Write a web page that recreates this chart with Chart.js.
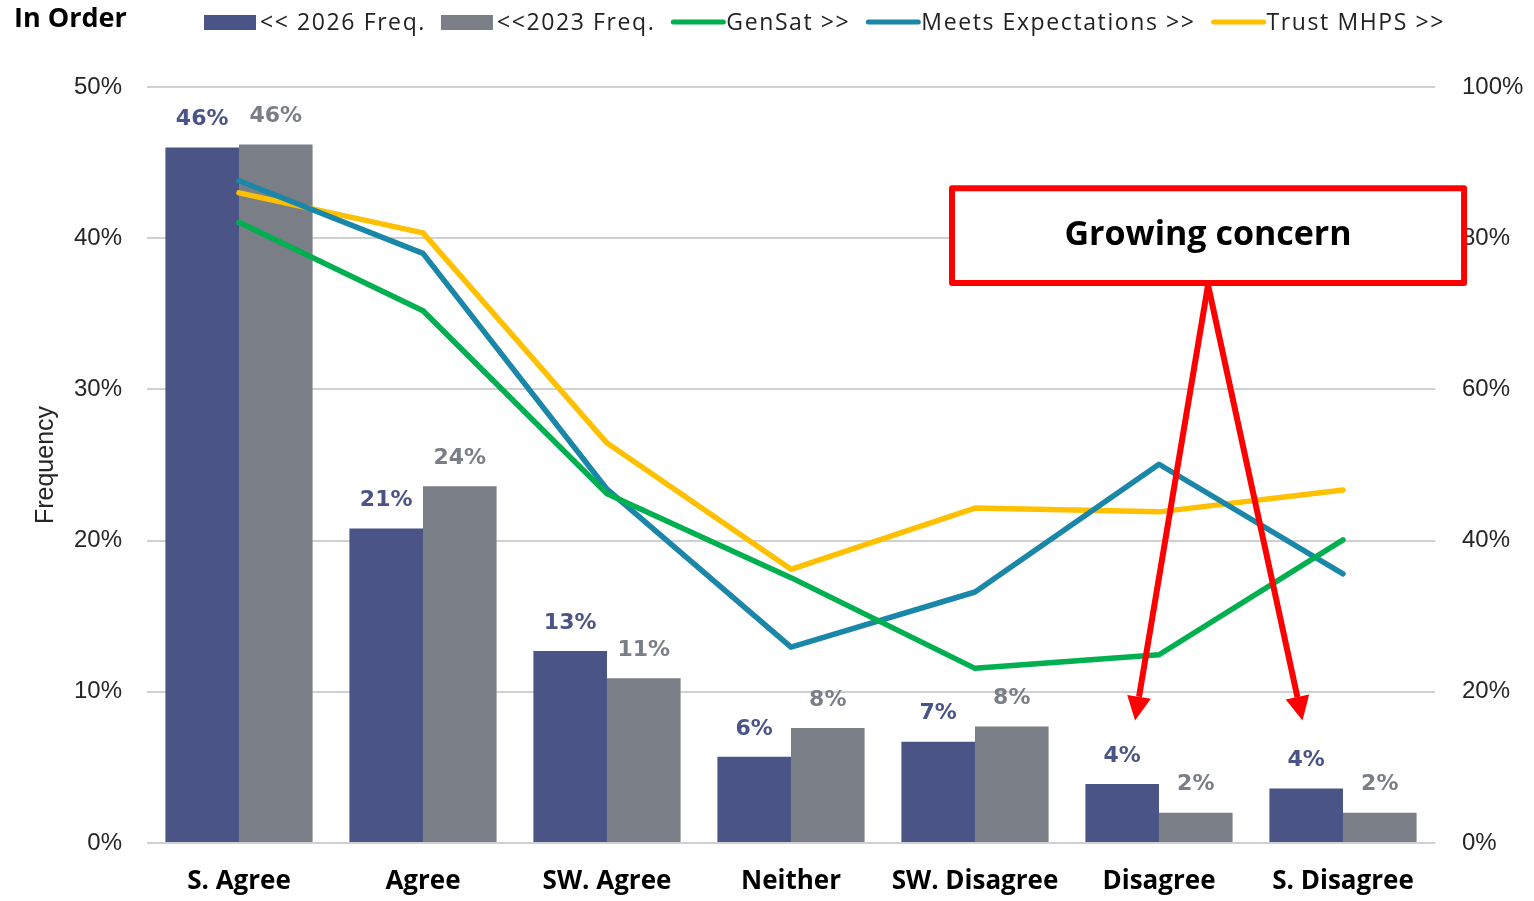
<!DOCTYPE html>
<html>
<head>
<meta charset="utf-8">
<script src="https://cdn.jsdelivr.net/npm/chart.js@4.4.1/dist/chart.umd.min.js"></script>
<style>
  html, body { margin: 0; padding: 0; background: #fff; overflow: hidden; }
  #wrap { width: 1534px; height: 901px; }
</style>
</head>
<body>
<div id="wrap"><canvas id="myChart" width="1534" height="901"></canvas></div>
<script>
// data
const categories = ["S. Agree", "Agree", "SW. Agree", "Neither", "SW. Disagree", "Disagree", "S. Disagree"];
const freq2026 = [46.0, 20.8, 12.7, 5.7, 6.7, 3.9, 3.6];
const freq2023 = [46.2, 23.6, 10.9, 7.6, 7.7, 2.0, 2.0];
const genSat = [82.1, 70.4, 46.2, 35.1, 23.1, 24.9, 40.1];
const meetsExp = [87.6, 78.0, 46.8, 25.9, 33.2, 50.1, 35.6];
const trustMhps = [86.0, 80.7, 52.9, 36.2, 44.3, 43.8, 46.7];
const legendLabels = ["<< 2026 Freq.", "<<2023 Freq.", "GenSat >>", "Meets Expectations >>", "Trust MHPS >>"];

const navy = "#4a5486";
const gray = "#7a7e87";
const green = "#00b050";
const teal = "#1a87a8";
const yellow = "#ffc000";
const red = "#ff0000";

const ctx = document.getElementById("myChart");

// labels above the bars
const barLabels = {
  id: "barLabels",
  afterDatasetsDraw(chart) {
    const c = chart.ctx;
    c.save();
    c.font = "bold 22px 'DejaVu Sans', Verdana, sans-serif";
    c.textAlign = "center";
    c.textBaseline = "middle";
    [0, 1].forEach((di) => {
      const meta = chart.getDatasetMeta(di);
      c.fillStyle = chart.data.datasets[di].backgroundColor;
      meta.data.forEach((bar, i) => {
        const v = chart.data.datasets[di].data[i];
        c.fillText(Math.round(v) + "%", bar.x, bar.y - 28);
      });
    });
    c.restore();
  },
};

// title, legend and the red call-out
const extras = {
  id: "extras",
  afterDraw(chart) {
    const c = chart.ctx;
    c.save();
    c.fillStyle = "#000";
    c.font = "bold 27px 'Open Sans', sans-serif";
    c.textBaseline = "middle";
    c.textAlign = "left";
    c.fillText("In Order", 14, 19);

    // legend
    c.font = "23px 'Open Sans', sans-serif";
    c.letterSpacing = "1.6px";
    let x = 204;
    const ly = 22;
    chart.data.datasets.forEach((ds, i) => {
      if (ds.type === "bar") {
        c.fillStyle = ds.backgroundColor;
        c.fillRect(x, ly - 7, 52, 15);
      } else {
        c.strokeStyle = ds.borderColor;
        c.lineWidth = 5;
        c.lineCap = "round";
        c.beginPath();
        c.moveTo(x + 3, ly);
        c.lineTo(x + 53, ly);
        c.stroke();
      }
      x += 56;
      c.fillStyle = "#222";
      c.fillText(legendLabels[i], x, ly + 1);
      x += c.measureText(legendLabels[i]).width + 15;
    });
    c.letterSpacing = "0px";

    // call-out box
    const xs = chart.scales.x;
    const ys = chart.scales.y;
    const cw = xs.getPixelForValue(1) - xs.getPixelForValue(0);
    const bx0 = xs.getPixelForValue(4) - 0.125 * cw;
    const bx1 = xs.getPixelForValue(6) + 0.658 * cw;
    const by0 = ys.getPixelForValue(43.3);
    const by1 = ys.getPixelForValue(37.04);
    const start = { x: (bx0 + bx1) / 2, y: by1 + 2 };
    const tips = [
      { x: xs.getPixelForValue(5) - 0.13 * cw, y: ys.getPixelForValue(8.1) },
      { x: xs.getPixelForValue(6) - 0.22 * cw, y: ys.getPixelForValue(8.1) },
    ];
    c.strokeStyle = red;
    c.fillStyle = red;
    c.lineWidth = 6;
    c.lineCap = "butt";
    tips.forEach((t) => {
      const ang = Math.atan2(t.y - start.y, t.x - start.x);
      const hl = 24, hw = 12;
      const bxp = t.x - hl * Math.cos(ang);
      const byp = t.y - hl * Math.sin(ang);
      c.beginPath();
      c.moveTo(start.x, start.y);
      c.lineTo(bxp, byp);
      c.stroke();
      c.beginPath();
      c.moveTo(t.x, t.y);
      c.lineTo(bxp + hw * Math.sin(ang), byp - hw * Math.cos(ang));
      c.lineTo(bxp - hw * Math.sin(ang), byp + hw * Math.cos(ang));
      c.closePath();
      c.fill();
    });
    c.fillStyle = "#fff";
    c.fillRect(bx0, by0, bx1 - bx0, by1 - by0);
    c.lineJoin = "round";
    c.strokeRect(bx0, by0, bx1 - bx0, by1 - by0);
    c.fillStyle = "#000";
    c.font = "bold 34px 'Open Sans', sans-serif";
    c.textAlign = "center";
    c.fillText("Growing concern", (bx0 + bx1) / 2, (by0 + by1) / 2);
    c.restore();
  },
};

const lineDs = (label, data, color) => ({
  type: "line",
  label: label,
  data: data,
  yAxisID: "y1",
  borderColor: color,
  backgroundColor: color,
  borderWidth: 5.5,
  pointRadius: 0,
  tension: 0,
  borderCapStyle: "round",
  borderJoinStyle: "round",
  order: 1,
});

const data = {
  labels: categories,
  datasets: [
    { type: "bar", label: legendLabels[0], data: freq2026, backgroundColor: navy, yAxisID: "y", order: 2, categoryPercentage: 0.8, barPercentage: 1.0 },
    { type: "bar", label: legendLabels[1], data: freq2023, backgroundColor: gray, yAxisID: "y", order: 2, categoryPercentage: 0.8, barPercentage: 1.0 },
    lineDs(legendLabels[2], genSat, green),
    lineDs(legendLabels[3], meetsExp, teal),
    lineDs(legendLabels[4], trustMhps, yellow),
  ],
};

const tickFont = { family: "'Liberation Sans', Arial, sans-serif", size: 24 };

const config = {
  type: "bar",
  data,
  options: {
    responsive: false,
    animation: false,
    devicePixelRatio: 1,
    layout: { padding: { top: 87, left: 0, right: 0, bottom: 0 } },
    plugins: { legend: { display: false }, tooltip: { enabled: false } },
    scales: {
      x: {
        grid: { display: false },
        border: { display: false },
        ticks: { color: "#000", font: { family: "'Open Sans', sans-serif", size: 26, weight: "bold" }, padding: 15, maxRotation: 0 },
        afterFit: (s) => { s.height = 58; },
      },
      y: {
        position: "left",
        min: 0,
        max: 50,
        ticks: { stepSize: 10, callback: (v) => v + "%", color: "#262626", font: tickFont, padding: 25 },
        grid: { color: "#d0d0d0", lineWidth: 2, drawTicks: false },
        border: { display: false },
        title: { display: true, text: "Frequency", color: "#262626", font: { family: "'Liberation Sans', Arial, sans-serif", size: 25 }, padding: { top: 31, bottom: 0 } },
        afterFit: (s) => { s.width = 147; },
      },
      y1: {
        position: "right",
        min: 0,
        max: 100,
        ticks: { stepSize: 20, callback: (v) => v + "%", color: "#262626", font: tickFont, padding: 27 },
        grid: { display: false, drawTicks: false },
        border: { display: false },
        afterFit: (s) => { s.width = 99; },
      },
    },
  },
  plugins: [barLabels, extras],
};

let myChart = new Chart(ctx, config);
</script>
</body>
</html>
